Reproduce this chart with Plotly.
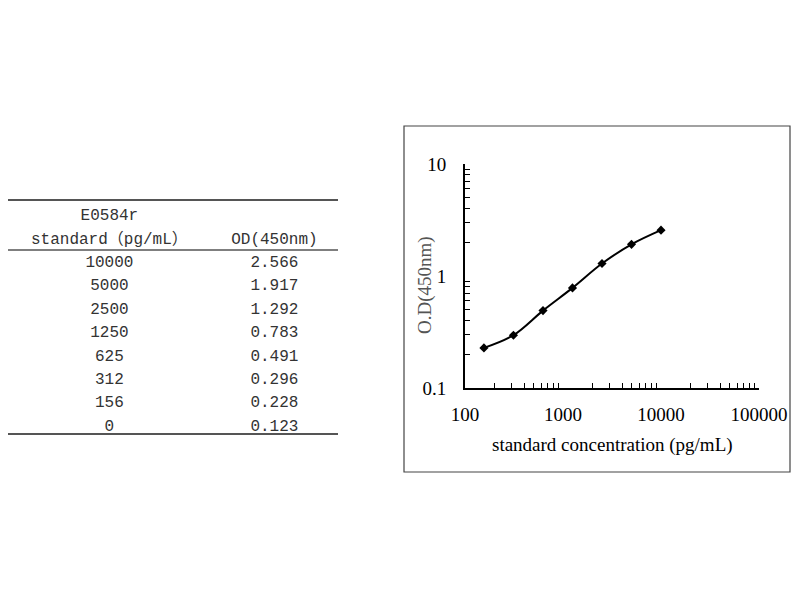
import plotly.graph_objects as go

# standard curve table
std_conc = ["10000", "5000", "2500", "1250", "625", "312", "156", "0"]
od_450 = ["2.566", "1.917", "1.292", "0.783", "0.491", "0.296", "0.228", "0.123"]

# points on the curve (0 standard is not plotted on log axis)
conc = [156, 312, 625, 1250, 2500, 5000, 10000]
od = [0.228, 0.296, 0.491, 0.783, 1.292, 1.917, 2.566]

x_ticks = [100, 1000, 10000, 100000]
y_ticks = [0.1, 1, 10]

W, H = 800, 600
OFF = 8  # page body margin

def px(x):
    return (x - OFF) / W

def py(y):
    return 1 - (y - OFF) / H

x_minor = [m * 10 ** k for k in (2, 3, 4) for m in range(2, 10)]
y_minor = [m * 10 ** k for k in (-1, 0) for m in range(2, 10)]

serif = "Liberation Serif"

fig = go.Figure()

fig.add_trace(go.Table(
    domain=dict(x=[0, px(338)], y=[py(445), py(200)]),
    columnwidth=[204, 128],
    header=dict(
        values=[["E0584r", "standard（pg/mL）"], ["", "OD(450nm)"]],
        align="center",
        height=23.5,
        line_color="white",
        fill_color="white",
        font=dict(family="Liberation Mono, Noto Sans CJK SC", size=16, color="#333"),
    ),
    cells=dict(
        values=[std_conc, od_450],
        align="center",
        height=23.4,
        line_color="white",
        fill_color="white",
        font=dict(family="Liberation Mono", size=16, color="#333"),
    ),
))

fig.add_trace(go.Scatter(
    x=conc, y=od,
    mode="lines+markers",
    line=dict(color="black", width=2, shape="spline"),
    marker=dict(symbol="diamond", size=7, color="black"),
    showlegend=False,
))

fig.update_xaxes(
    type="log", range=[2, 5],
    domain=[px(465), px(759)],
    automargin=False,
    showline=True, linecolor="black", linewidth=2,
    showgrid=False, zeroline=False,
    ticks="", tickvals=x_ticks, ticktext=[str(v) for v in x_ticks],
    ticklabelstandoff=8,
    minor=dict(tickmode="array", tickvals=x_minor, ticks="inside", ticklen=5,
               tickcolor="black", tickwidth=1, showgrid=False),
    tickfont=dict(family=serif, size=19, color="black"),
)
fig.update_yaxes(
    type="log", range=[-1, 1],
    domain=[py(388), py(164)],
    automargin=False,
    showline=True, linecolor="black", linewidth=2,
    showgrid=False, zeroline=False,
    ticks="", tickvals=y_ticks, ticktext=["0.1", "1", "10"],
    ticklabelstandoff=13,
    minor=dict(tickmode="array", tickvals=y_minor, ticks="inside", ticklen=5,
               tickcolor="black", tickwidth=1, showgrid=False),
    tickfont=dict(family=serif, size=19, color="black"),
)

annotations = [
    dict(text="standard concentration (pg/mL)", xref="paper", yref="paper",
         x=px(612), y=py(445), showarrow=False, xanchor="center", yanchor="middle",
         font=dict(family=serif, size=19, color="black")),
    dict(text="O.D(450nm)", xref="paper", yref="paper", textangle=-90,
         x=px(425), y=py(285), showarrow=False, xanchor="center", yanchor="middle",
         font=dict(family=serif, size=19, color="#555")),
]

shapes = [
    # table rules
    dict(type="line", xref="paper", yref="paper", x0=px(4), x1=px(338), y0=py(200), y1=py(200),
         line=dict(color="#555", width=2)),
    dict(type="line", xref="paper", yref="paper", x0=px(4), x1=px(338), y0=py(250), y1=py(250),
         line=dict(color="#555", width=1.5)),
    dict(type="line", xref="paper", yref="paper", x0=px(4), x1=px(338), y0=py(434), y1=py(434),
         line=dict(color="#555", width=2)),
    # chart frame
    dict(type="rect", xref="paper", yref="paper", x0=px(404), x1=px(790), y0=py(472), y1=py(126),
         line=dict(color="#444", width=1.2)),
]

fig.update_layout(
    width=W, height=H,
    autosize=False,
    margin=dict(l=0, r=0, t=0, b=0, pad=0, autoexpand=False),
    paper_bgcolor="white", plot_bgcolor="white",
    shapes=shapes,
    annotations=annotations,
    showlegend=False,
)

fig.write_html("out.html")
